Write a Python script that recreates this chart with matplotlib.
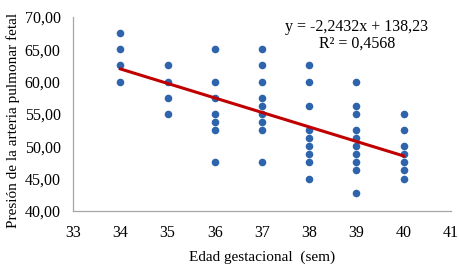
import matplotlib
matplotlib.use("Agg")
import matplotlib.pyplot as plt
import numpy as np

# Données
edad = [34]*4 + [35]*4 + [36]*7 + [37]*9 + [38]*9 + [39]*10 + [40]*7
presion = [
    67.5, 65, 62.5, 60,
    62.5, 60, 57.5, 55,
    65, 60, 57.5, 55, 53.75, 52.5, 47.5,
    65, 62.5, 60, 57.5, 56.25, 55, 53.75, 52.5, 47.5,
    62.5, 60, 56.25, 52.5, 51.25, 50, 48.75, 47.5, 45,
    60, 56.25, 55, 52.5, 51.25, 50, 48.75, 47.5, 46.25, 42.75,
    55, 52.5, 50, 48.75, 47.5, 46.25, 45,
]
pente, origine = -2.2432, 138.23
x_ticks = [33, 34, 35, 36, 37, 38, 39, 40, 41]
y_ticks = [40, 45, 50, 55, 60, 65, 70]

plt.rcParams["font.family"] = ["Liberation Serif", "DejaVu Serif"]

fig = plt.figure(figsize=(4.6, 2.69), dpi=100)
ax = fig.add_axes([0.159, 0.216, 0.821, 0.721])

ax.scatter(edad, presion, s=30, color="#2E64AC", zorder=3, linewidths=0)
xt = np.array([min(edad), max(edad)])
ax.plot(xt, pente * xt + origine, color="#C00000", linewidth=2.2, zorder=4)

ax.set_xlim(33, 41)
ax.set_ylim(40, 70)
ax.set_xticks(x_ticks)
ax.set_yticks(y_ticks)
ax.set_yticklabels([f"{v:.2f}".replace(".", ",") for v in y_ticks])
ax.tick_params(length=0, labelsize=11.5)
ax.tick_params(axis="y", pad=9)
ax.tick_params(axis="x", pad=10)
for s in ["top", "right"]:
    ax.spines[s].set_visible(False)
for s in ["left", "bottom"]:
    ax.spines[s].set_color("#a6a6a6")
    ax.spines[s].set_linewidth(0.9)

ax.set_xlabel("Edad gestacional  (sem)", fontsize=11)
ax.set_ylabel("Presión de la arteria pulmonar fetal", fontsize=11)
ax.xaxis.set_label_coords(0.5, -0.205)
ax.yaxis.set_label_coords(-0.142, 0.464)

ax.text(0.751, 0.907, "y = -2,2432x + 138,23\nR² = 0,4568", transform=ax.transAxes,
        ha="center", va="center", fontsize=11.5, linespacing=1.05)

fig.savefig("out.png", dpi=100)
